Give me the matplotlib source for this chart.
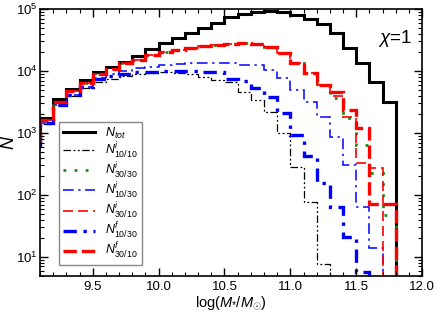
import numpy as np
import matplotlib
matplotlib.use("Agg")
import matplotlib.pyplot as plt
from matplotlib.ticker import MultipleLocator, LogLocator, NullFormatter

plt.rcParams['font.family'] = ['Liberation Sans', 'DejaVu Sans']
plt.rcParams['mathtext.fontset'] = 'custom'
plt.rcParams['mathtext.rm'] = 'Liberation Sans'
plt.rcParams['mathtext.it'] = 'Liberation Sans:italic'
plt.rcParams['mathtext.bf'] = 'Liberation Sans:bold'

# bin edges (log M*)
bin_edges = [9.0, 9.1, 9.2, 9.3, 9.4, 9.5, 9.6, 9.7, 9.8, 9.9, 10.0, 10.1, 10.2,
             10.3, 10.4, 10.5, 10.6, 10.7, 10.8, 10.9, 11.0, 11.1, 11.2, 11.3,
             11.4, 11.5, 11.6, 11.7, 11.8]

n_tot = [800, 1750, 3530, 5130, 7160, 9640, 11760, 14140, 17660, 22400, 28300,
         34400, 41500, 49000, 60200, 75100, 83100, 90500, 94000, 90500, 80000,
         68200, 57300, 41000, 23800, 13600, 6710, 3200]
ni_10_10 = [650, 1400, 2800, 4000, 5300, 6600, 7500, 8300, 8900, 9300, 9500,
            9400, 9000, 8000, 7200, 6600, 4640, 3400, 2200, 1000, 280, 78, 7.7]
ni_30_30 = [770, 1620, 3200, 4750, 6300, 9100, 10600, 13300, 15000, 18100, 20500,
            21800, 23200, 25300, 26500, 27500, 28000, 27500, 24500, 19300, 13300,
            9400, 5900, 3670, 1740, 640, 226, 48]
ni_10_30 = [550, 1450, 2830, 4100, 5600, 7600, 8800, 10000, 11000, 11800, 12400,
            12900, 13300, 13500, 13600, 13400, 12700, 12500, 10400, 7600, 4940,
            3200, 1790, 870, 305, 65, 14]
ni_30_10 = [770, 1620, 3200, 4750, 6300, 9100, 10600, 13300, 15000, 18100, 20500,
            21800, 23200, 25300, 26500, 27500, 28000, 27500, 24500, 19300, 13300,
            9400, 5900, 4000, 1800, 330, 270]
nf_10_30 = [550, 1450, 2830, 4100, 5600, 7400, 8300, 9000, 9500, 9800, 10000,
            10000, 9900, 9800, 9600, 7400, 6900, 5300, 3850, 2080, 930, 430, 156,
            65, 21, 5.8]
nf_30_10 = [770, 1620, 3200, 4750, 6300, 9100, 10600, 13300, 15000, 18100, 20500,
            21800, 23200, 25300, 26500, 27500, 28000, 27500, 24500, 19300, 13300,
            9400, 5900, 4600, 2350, 1200, 72, 72]

labels = [r'$N_{tot}$', r'$N^{i}_{\mathit{10/10}}$', r'$N^{i}_{\mathit{30/30}}$',
          r'$N^{i}_{\mathit{10/30}}$', r'$N^{i}_{\mathit{30/10}}$',
          r'$N^{f}_{\mathit{10/30}}$', r'$N^{f}_{\mathit{30/10}}$']

series = [n_tot, ni_10_10, ni_30_30, ni_10_30, ni_30_10, nf_10_30, nf_30_10]
styles = [
    dict(color='black', lw=2.2, ls='-'),
    dict(color='black', lw=0.9, ls=(0, (6, 2, 1.5, 2, 1.5, 2))),
    dict(color='#1a8c1a', lw=2.0, ls=(0, (1, 3))),
    dict(color='#0000ff', lw=1.1, ls=(0, (7, 3, 1.5, 3))),
    dict(color='#ff0000', lw=1.2, ls=(0, (6, 3))),
    dict(color='#0000ff', lw=2.4, ls=(0, (4, 2, 1, 2))),
    dict(color='#ff0000', lw=2.4, ls=(0, (4, 1.5))),
]

fig = plt.figure(figsize=(4.36, 3.13), dpi=100)
ax = fig.add_axes([0.092, 0.118, 0.876, 0.853])

handles = []
for vals, st, lab in zip(series, styles, labels):
    edges = bin_edges[:len(vals) + 1]
    ax.stairs(vals, edges, baseline=1e-3, fill=False, **st)
    h, = ax.plot([], [], label=lab, **st)
    handles.append(h)

ax.set_yscale('log')
ax.set_xlim(9.1, 12.0)
ax.set_ylim(4.9, 1e5)

ax.xaxis.set_major_locator(MultipleLocator(0.5))
ax.xaxis.set_minor_locator(MultipleLocator(0.1))
ax.yaxis.set_major_locator(LogLocator(base=10, numticks=10))
ax.yaxis.set_minor_locator(LogLocator(base=10, subs=np.arange(2, 10), numticks=20))
ax.yaxis.set_minor_formatter(NullFormatter())
ax.tick_params(which='both', direction='in', top=True, right=True, labelsize=9.5)
ax.tick_params(which='major', length=6, width=1.0)
ax.tick_params(which='minor', length=3, width=0.8)
ax.tick_params(axis='y', which='major', pad=2)
for sp in ax.spines.values():
    sp.set_linewidth(1.2)

ax.set_xlabel(r'log($M_{*}/M_{\odot}$)', fontsize=10.5, labelpad=1)
ax.set_ylabel(r'$N$', fontsize=13)
ax.yaxis.set_label_coords(-0.058, 0.5)

ax.text(0.975, 0.93, r'$\chi$=1', transform=ax.transAxes, ha='right', va='top',
        fontsize=13.5)

leg = ax.legend(handles=handles, loc='lower left', bbox_to_anchor=(0.05, 0.041),
                borderaxespad=0, fontsize=9, frameon=True, fancybox=False,
                handlelength=2.6, labelspacing=0.0, handletextpad=0.8,
                borderpad=0.3)
leg.get_frame().set_edgecolor('#888888')
leg.get_frame().set_linewidth(1.0)
leg.get_frame().set_alpha(1)

fig.savefig('out.png', dpi=100)
